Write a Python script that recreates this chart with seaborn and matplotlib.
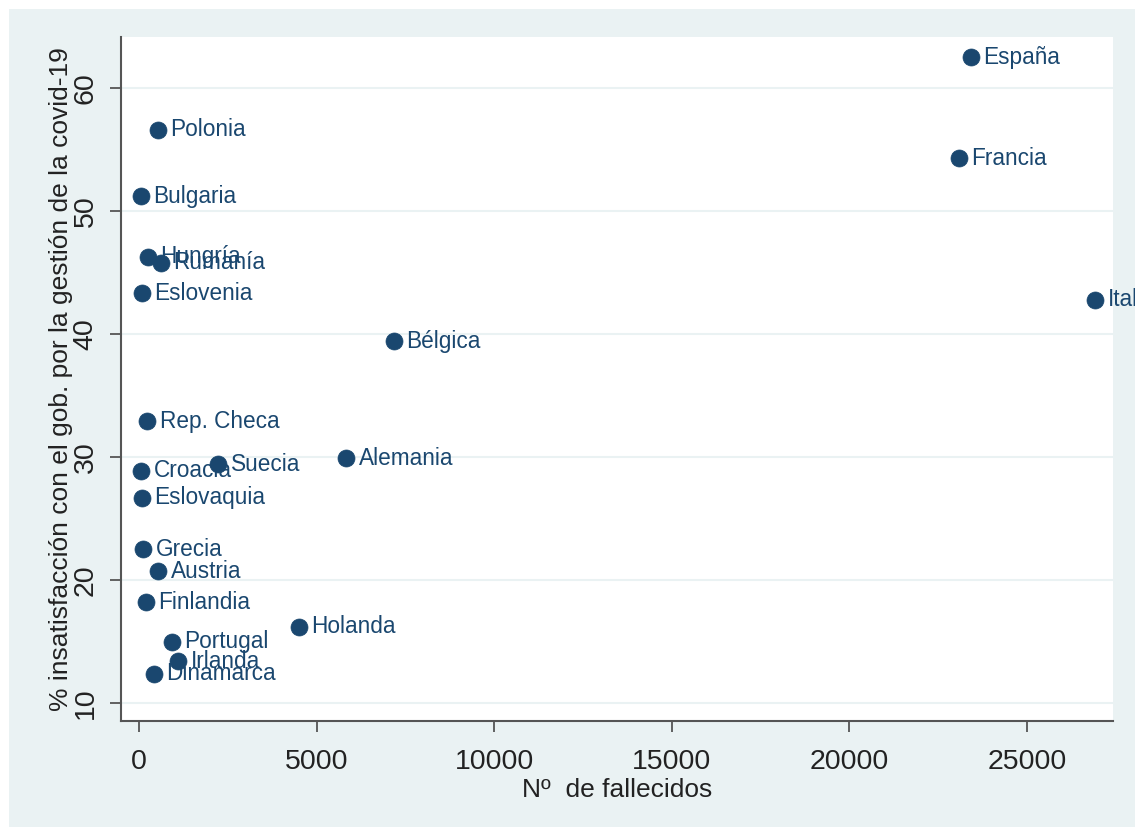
import matplotlib
matplotlib.use("Agg")
import matplotlib.pyplot as plt
import seaborn as sns
import pandas as pd
from matplotlib.patches import Rectangle

# Data
paises = ["España", "Francia", "Italia", "Polonia", "Bulgaria", "Hungría", "Rumanía",
          "Eslovenia", "Bélgica", "Rep. Checa", "Croacia", "Suecia", "Alemania",
          "Eslovaquia", "Grecia", "Austria", "Finlandia", "Holanda", "Portugal",
          "Irlanda", "Dinamarca"]
fallecidos = [23420, 23080, 26910, 535, 56, 253, 620,
              84, 7180, 225, 56, 2224, 5830,
              84, 113, 535, 197, 4500, 930,
              1100, 422]
insatisfaccion = [62.5, 54.3, 42.8, 56.6, 51.2, 46.3, 45.8,
                  43.3, 39.4, 32.9, 28.9, 29.4, 29.9,
                  26.7, 22.5, 20.7, 18.2, 16.2, 15.0,
                  13.4, 12.4]

data = pd.DataFrame({"pais": paises, "fallecidos": fallecidos, "insat": insatisfaccion})

sns.set_style("white")
plt.rcParams['font.family'] = ['Liberation Sans', 'DejaVu Sans']

navy = "#1a476f"
bg = "#eaf2f3"

fig = plt.figure(figsize=(11.35, 8.27), dpi=100, facecolor="white")
fig.patches.append(Rectangle((9 / 1135, 0), 1 - 9 / 1135, 1 - 9 / 827,
                             transform=fig.transFigure, facecolor=bg,
                             edgecolor="none", zorder=-10))

ax = fig.add_axes([121 / 1135, 106 / 827, 992 / 1135, 684 / 827])
ax.set_facecolor("white")

sns.scatterplot(data=data, x="fallecidos", y="insat", ax=ax, color=navy,
                s=150, edgecolor=navy, linewidth=0.5, zorder=3)

for _, r in data.iterrows():
    ax.annotate(r["pais"], (r["fallecidos"], r["insat"]), xytext=(9, 0),
                textcoords="offset points", va="center", ha="left",
                fontsize=16.3, color=navy, annotation_clip=False, zorder=4)

ax.set_xlim(-507, 27420)
ax.set_ylim(8.54, 64.15)
ax.set_xticks([0, 5000, 10000, 15000, 20000, 25000])
ax.set_yticks([10, 20, 30, 40, 50, 60])
ax.yaxis.grid(True, color=bg, linewidth=1.5, zorder=0)
ax.xaxis.grid(False)

for s in ["top", "right"]:
    ax.spines[s].set_visible(False)
for s in ["left", "bottom"]:
    ax.spines[s].set_color("#555555")
    ax.spines[s].set_linewidth(1.5)

ax.tick_params(axis="both", direction="out", length=8, width=1.3, color="#555555",
               labelsize=20.5, labelcolor="#222222", pad=8, left=True, bottom=True)
ax.tick_params(axis="x", pad=12)
plt.setp(ax.get_yticklabels(), rotation=90, va="center")

ax.set_xlabel("Nº  de fallecidos", fontsize=19, color="#222222", labelpad=2)
ax.set_ylabel("% insatisfacción con el gob. por la gestión de la covid-19",
              fontsize=19, color="#222222", labelpad=0)

fig.savefig("out.png", dpi=100, facecolor=fig.get_facecolor())
